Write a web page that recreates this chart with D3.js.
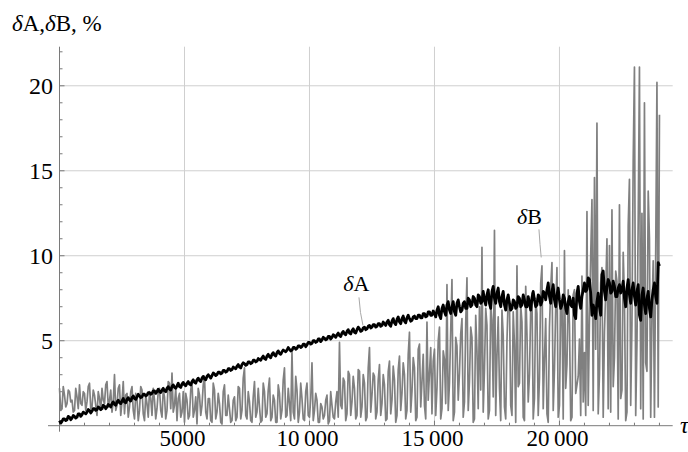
<!DOCTYPE html>
<html>
<head>
<meta charset="utf-8">
<style>
  body { margin: 0; background: #fff; }
  text { font-family: "Liberation Serif", "Times New Roman", serif; fill: #000; }
</style>
</head>
<body>
<svg class="chart"></svg>
<script src="https://d3js.org/d3.v7.min.js"></script>
<script>
// step of the tau axis between samples
var tauStep = 50;

// deltaA, % (black curve), one value per 50 of tau, 0..24000 (one row = 1000 of tau)
var deltaA = [
  0.3,0.15,0.25,0.4,0.4,0.3,0.35,0.55,0.5,0.35,0.45,0.6,0.55,0.45,0.5,0.7,0.7,0.55,0.65,0.8,
  0.75,0.7,0.8,0.95,0.9,0.75,0.85,1.0,1.0,0.9,0.95,1.1,1.05,0.95,1.0,1.2,1.15,1.0,1.1,1.25,
  1.2,1.1,1.3,1.4,1.25,1.2,1.4,1.5,1.35,1.3,1.45,1.6,1.4,1.35,1.55,1.65,1.5,1.45,1.65,1.75,
  1.6,1.55,1.7,1.85,1.75,1.65,1.7,1.85,1.85,1.75,1.8,1.95,1.95,1.85,1.9,2.05,2.05,1.9,2.0,2.15,
  2.0,1.95,2.1,2.2,2.05,2.0,2.2,2.3,2.15,2.1,2.3,2.4,2.25,2.2,2.35,2.5,2.3,2.25,2.45,2.55,
  2.4,2.35,2.5,2.6,2.45,2.4,2.6,2.7,2.55,2.5,2.7,2.8,2.65,2.6,2.8,2.9,2.75,2.7,2.9,3.0,
  2.9,2.8,2.95,3.1,3.05,2.95,3.0,3.15,3.15,3.05,3.1,3.25,3.25,3.15,3.2,3.35,3.35,3.25,3.3,3.45,
  3.4,3.35,3.5,3.6,3.45,3.4,3.6,3.7,3.65,3.55,3.6,3.75,3.75,3.65,3.7,3.85,3.85,3.75,3.8,3.95,
  3.9,3.85,4.0,4.1,3.95,3.9,4.1,4.2,4.05,4.0,4.2,4.3,4.15,4.1,4.3,4.4,4.25,4.2,4.35,4.45,
  4.4,4.35,4.45,4.6,4.5,4.4,4.45,4.6,4.6,4.5,4.55,4.7,4.7,4.6,4.65,4.8,4.8,4.65,4.75,4.9,
  4.9,4.8,4.85,5.0,5.0,4.9,4.95,5.1,5.1,4.95,5.05,5.2,5.15,5.05,5.1,5.25,5.25,5.1,5.2,5.35,
  5.3,5.2,5.35,5.45,5.3,5.25,5.45,5.55,5.4,5.35,5.55,5.65,5.45,5.4,5.6,5.7,5.5,5.45,5.65,5.8,
  5.7,5.55,5.6,5.75,5.8,5.65,5.7,5.85,5.9,5.75,5.8,5.95,5.95,5.8,5.85,6.0,6.0,5.85,5.9,6.1,
  6.0,5.9,6.1,6.2,5.95,5.85,6.15,6.3,6.05,5.95,6.25,6.4,6.1,6.0,6.3,6.45,6.15,6.05,6.35,6.5,
  6.3,6.15,6.2,6.4,6.45,6.3,6.3,6.5,6.5,6.35,6.35,6.6,6.6,6.4,6.45,6.7,6.7,6.5,6.5,6.75,
  6.6,6.4,6.8,7.0,6.5,6.3,6.9,7.1,6.7,6.5,7.1,7.3,6.8,6.6,7.0,7.3,6.7,6.5,7.2,7.4,
  7.0,6.7,6.8,7.2,7.3,6.9,6.9,7.5,7.4,7.0,7.1,7.6,7.5,7.1,7.0,7.7,7.6,7.2,7.3,7.9,
  7.4,7.1,7.7,8.0,7.2,6.9,7.9,8.2,7.5,7.2,7.8,8.1,7.3,7.0,7.6,7.9,7.1,6.8,7.4,7.7,
  7.2,6.8,6.9,7.4,7.3,6.9,7.0,7.6,7.5,7.0,7.1,7.7,7.4,7.0,7.0,7.6,7.2,6.8,7.5,7.9,
  7.4,7.0,7.1,7.7,7.6,7.1,7.3,7.9,7.8,7.4,8.0,8.4,7.6,7.2,7.9,8.3,7.4,7.0,7.7,8.1,
  7.4,6.9,7.1,7.7,7.5,6.9,6.6,7.3,7.6,7.1,7.0,7.5,6.5,6.3,7.8,8.2,7.3,6.9,7.6,8.0,
  8.4,7.9,8.0,8.7,8.6,7.8,6.5,7.1,6.8,6.3,7.3,7.8,7.0,6.5,8.9,9.1,7.9,7.4,8.2,8.6,
  8.4,7.8,7.9,8.5,8.2,7.6,7.6,8.1,8.3,7.8,8.0,8.5,7.5,7.0,8.1,8.6,7.7,7.2,8.0,8.4,
  7.6,7.1,7.9,8.3,6.5,6.2,7.7,8.1,7.1,6.6,7.5,7.9,6.9,6.4,7.4,8.0,8.4,7.6,7.2,9.6,
  9.4
];

// deltaB, % (grey curve), same tau grid
var deltaB = [
  2.2,0.9,1.0,2.3,1.8,1.1,1.3,2.1,2.0,1.4,1.5,0.8,0.9,2.2,1.7,1.0,2.4,1.3,1.2,2.0,
  1.9,0.9,1.4,2.3,2.5,1.0,1.1,2.1,1.8,1.2,0.6,2.0,1.6,0.9,2.2,1.5,1.3,2.4,2.6,1.1,
  1.5,2.1,0.8,1.4,3.0,0.9,1.2,2.2,2.4,0.6,1.4,2.6,0.7,1.8,1.9,0.5,1.1,2.0,2.3,0.9,
  0.4,1.9,1.6,0.3,0.9,2.3,2.1,0.7,0.3,1.8,1.3,0.5,2.0,1.6,0.6,2.2,1.5,0.4,1.0,2.0,
  2.2,0.9,0.5,2.1,1.7,0.4,0.9,2.6,2.5,1.0,3.1,0.8,1.2,2.2,0.3,1.6,1.9,0.5,0.8,2.0,
  0.2,1.9,1.5,0.4,0.6,2.1,2.6,0.5,0.9,1.7,0.1,2.2,1.8,0.6,1.2,2.4,2.9,0.8,0.4,1.6,
  1.6,0.3,0.2,2.5,2.1,0.4,0.8,1.9,1.3,0.2,0.1,2.0,2.4,0.6,0.6,1.8,1.0,0.2,0.3,1.5,
  1.7,0.3,0.5,2.3,2.2,0.4,0.9,2.8,3.4,0.6,0.4,2.0,1.4,0.3,0.2,1.7,2.6,0.5,0.8,2.2,
  1.1,0.2,0.3,2.5,2.0,0.5,0.7,2.1,2.8,0.3,0.5,1.8,1.5,0.2,0.2,2.4,1.9,0.4,0.9,2.7,
  3.4,0.5,0.6,2.2,1.3,0.3,4.4,0.8,0.4,2.9,2.1,0.2,0.8,2.5,1.6,0.4,0.3,2.0,2.5,0.6,
  0.5,1.6,3.7,0.3,0.9,1.9,1.5,0.2,0.2,1.3,1.1,0.4,0.6,1.5,1.8,0.1,0.3,2.0,1.2,0.5,
  0.4,1.4,2.0,0.5,4.9,1.2,1.0,2.8,2.6,0.3,0.7,3.2,3.0,0.6,1.4,2.9,2.2,0.4,0.6,3.3,
  3.2,0.5,1.1,3.0,2.5,0.3,0.5,3.4,4.6,0.8,1.8,3.1,2.9,0.4,0.8,2.7,3.6,0.6,1.3,3.0,
  2.4,0.3,0.4,3.2,3.8,0.7,1.5,3.5,2.7,0.2,0.6,3.3,4.1,0.9,1.9,3.7,3.0,0.4,0.9,4.2,
  5.5,0.8,2.0,4.0,3.4,0.3,0.5,4.5,4.8,1.1,2.6,4.2,1.2,0.4,6.1,1.5,3.1,4.6,0.7,3.8,
  4.5,0.6,2.2,5.0,5.8,0.4,1.0,4.4,3.9,1.3,8.3,0.9,2.5,5.6,8.6,0.3,0.8,5.2,4.7,1.5,
  3.1,5.4,6.3,0.5,1.4,6.0,8.7,0.9,2.6,5.8,5.2,0.2,0.4,6.5,4.4,1.0,7.0,2.1,10.5,0.8,
  3.3,6.9,5.9,0.4,0.9,7.2,6.2,1.7,11.5,0.6,4.1,6.4,2.2,0.3,6.8,5.3,1.1,0.4,5.0,7.6,
  7.3,1.2,0.6,6.7,4.8,0.2,9.4,2.3,2.5,7.1,6.1,0.5,0.3,8.2,5.4,1.4,3.0,6.9,7.8,0.4,
  1.6,7.5,6.6,0.6,2.8,8.4,9.4,1.0,4.0,6.3,0.7,0.2,5.8,8.1,9.6,0.9,3.3,7.0,9.3,0.5,
  1.2,6.8,7.4,0.4,10.3,2.2,3.6,8.0,6.0,0.3,0.5,7.7,8.0,1.9,2.4,2.9,5.1,0.6,8.8,1.4,
  4.3,0.6,12.6,1.2,6.2,10.0,13.3,0.9,14.6,4.5,17.8,0.7,3.0,8.4,9.3,0.5,5.5,7.9,11.0,1.0,
  10.6,0.8,12.7,2.3,4.0,9.1,8.5,0.4,13.0,1.6,2.1,10.2,7.4,0.3,0.8,11.8,14.5,1.2,6.0,15.6,
  21.1,0.6,4.8,12.0,21.1,1.0,12.5,0.4,19.0,3.7,3.2,13.8,11.0,0.5,6.5,9.7,0.5,10.2,20.2,1.1,
  18.3
];

var xTicks = [5000, 10000, 15000, 20000];
var xTickLabels = ["5000", "10\u2009000", "15\u2009000", "20\u2009000"];
var yTicks = [5, 10, 15, 20];
var yTickLabels = ["5", "10", "15", "20"];

var width = 688, height = 452;
var x0 = 59.5, y0 = 425.7;

var svg = d3.select(".chart")
    .attr("width", width)
    .attr("height", height);

var x = d3.scaleLinear().domain([0, 24530]).range([x0, 672.7]);
var y = d3.scaleLinear().domain([0, 22.3]).range([y0, 46.7]);

// grid
svg.append("g").selectAll("line")
    .data(xTicks)
    .join("line")
    .attr("x1", d => x(d)).attr("x2", d => x(d))
    .attr("y1", y(22.3)).attr("y2", y0)
    .attr("stroke", "#cfcfcf").attr("stroke-width", 1);

svg.append("g").selectAll("line")
    .data(yTicks)
    .join("line")
    .attr("x1", x0).attr("x2", x(24530))
    .attr("y1", d => y(d)).attr("y2", d => y(d))
    .attr("stroke", "#cfcfcf").attr("stroke-width", 1);

// axes
var axisColor = "#7a7a7a";
svg.append("line")
    .attr("x1", 48).attr("x2", x(24530))
    .attr("y1", y0).attr("y2", y0)
    .attr("stroke", axisColor);
svg.append("line")
    .attr("x1", x0).attr("x2", x0)
    .attr("y1", y(22.3)).attr("y2", y0 + 6)
    .attr("stroke", axisColor);

// y ticks, major and minor
svg.append("g").selectAll("line")
    .data(d3.range(1, 23))
    .join("line")
    .attr("x1", x0).attr("x2", d => x0 + (d % 5 == 0 ? 5 : 3))
    .attr("y1", d => y(d)).attr("y2", d => y(d))
    .attr("stroke", axisColor);

// x ticks
svg.append("g").selectAll("line")
    .data(d3.range(1000, 24001, 1000))
    .join("line")
    .attr("x1", d => x(d)).attr("x2", d => x(d))
    .attr("y1", y0).attr("y2", d => y0 - (d % 5000 == 0 ? 5 : 3))
    .attr("stroke", axisColor);

svg.append("g").selectAll("text")
    .data(yTicks)
    .join("text")
    .attr("x", 53)
    .attr("y", d => y(d))
    .attr("dy", "0.34em")
    .attr("text-anchor", "end")
    .style("font-size", "24px")
    .text((d, i) => yTickLabels[i]);

svg.append("g").selectAll("text")
    .data(xTicks)
    .join("text")
    .attr("x", d => x(d) - 2)
    .attr("y", 446)
    .attr("text-anchor", "middle")
    .style("font-size", "23px")
    .text((d, i) => xTickLabels[i]);

svg.append("text")
    .attr("x", 680).attr("y", 433)
    .style("font-size", "24px").style("font-style", "italic")
    .text("τ");

// title
var title = svg.append("text")
    .attr("x", 12).attr("y", 31)
    .style("font-size", "23px");
title.append("tspan").style("font-style", "italic").text("δ");
title.append("tspan").text("A,");
title.append("tspan").style("font-style", "italic").text("δ");
title.append("tspan").text("B, %");

// curves
var line = d3.line()
    .x((d, i) => x(i * tauStep))
    .y(d => y(d));

svg.append("path")
    .datum(deltaB)
    .attr("fill", "none")
    .attr("stroke", "#808080")
    .attr("stroke-width", 1.7)
    .attr("stroke-linejoin", "round")
    .attr("d", line);

svg.append("path")
    .datum(deltaA)
    .attr("fill", "none")
    .attr("stroke", "#000")
    .attr("stroke-width", 2.8)
    .attr("stroke-linejoin", "round")
    .attr("d", line);

// curve labels with leader lines
function curveLabel(name, tx, ty, p0, p1) {
    var t = svg.append("text")
        .attr("x", x(tx)).attr("y", y(ty))
        .style("font-size", "22px");
    t.append("tspan").style("font-style", "italic").text("δ");
    t.append("tspan").text(name);
    svg.append("path")
        .attr("d", "M" + x(p0[0]) + "," + y(p0[1]) + " Q" + (x(p0[0]) + 1) + "," + (y((p0[1] + p1[1]) / 2) + 2) + " " + x(p1[0]) + "," + y(p1[1]))
        .attr("fill", "none")
        .attr("stroke", "#a8a8a8")
        .attr("stroke-width", 1);
}
curveLabel("A", 11350, 7.9, [11980, 7.55], [12140, 5.9]);
curveLabel("B", 18300, 11.85, [19180, 11.55], [19270, 9.9]);
</script>
</body>
</html>
